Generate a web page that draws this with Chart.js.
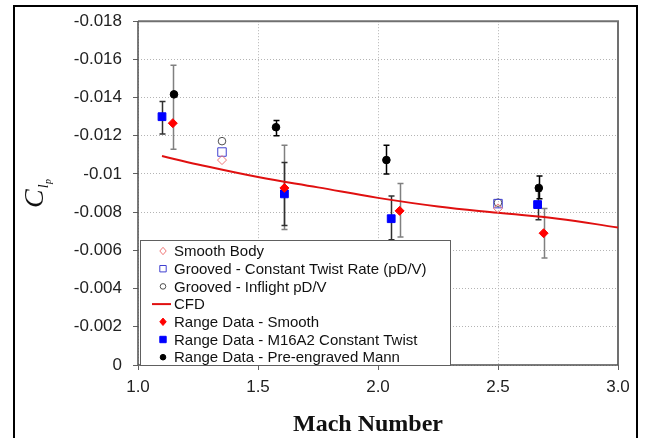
<!DOCTYPE html>
<html><head><meta charset="utf-8">
<script src="https://cdn.jsdelivr.net/npm/chart.js@4/dist/chart.umd.min.js"></script>
<style>html,body{margin:0;padding:0;background:#fff}</style>
</head><body>
<canvas id="c" width="649" height="438"></canvas>
<script>
// ---- data ----
const smoothBodyMach = [1.35, 2.5];
const smoothBodyClp = [-0.01073, -0.0082];
const groovedTwistMach = [1.35, 2.5];
const groovedTwistClp = [-0.01115, -0.00845];
const groovedInflightMach = [1.35, 2.5];
const groovedInflightClp = [-0.01172, -0.0085];
const cfdMach = [1.1, 1.25, 1.5, 1.75, 2.0, 2.25, 2.5, 2.75, 3.0];
const cfdClp = [-0.01094, -0.0105, -0.00984, -0.0093, -0.00875, -0.0083, -0.00797, -0.00766, -0.0072];
const rangeSmoothMach = [1.145, 1.61, 2.09, 2.69];
const rangeSmoothClp = [-0.01266, -0.00927, -0.00807, -0.0069];
const rangeSmoothErrLow = [-0.0113, -0.0071, -0.0067, -0.0056];
const rangeSmoothErrHigh = [-0.0157, -0.0115, -0.0095, -0.0082];
const rangeM16Mach = [1.10, 1.61, 2.055, 2.665];
const rangeM16Clp = [-0.0130, -0.00896, -0.00766, -0.0084];
const rangeM16ErrLow = [-0.0121, -0.0073, -0.00656, -0.0076];
const rangeM16ErrHigh = [-0.0138, -0.0106, -0.00885, -0.0091];
const rangeMannMach = [1.15, 1.575, 2.035, 2.67];
const rangeMannClp = [-0.01417, -0.01245, -0.01073, -0.00927];
const rangeMannErrLow = [null, -0.0120, -0.0100, -0.0087];
const rangeMannErrHigh = [null, -0.0128, -0.0115, -0.0099];
const legendLabels = ['Smooth Body', 'Grooved - Constant Twist Rate (pD/V)', 'Grooved - Inflight pD/V', 'CFD',
  'Range Data - Smooth', 'Range Data - M16A2 Constant Twist', 'Range Data - Pre-engraved Mann'];
const xTickMin = 1.0, xTickMax = 3.0, xTickStep = 0.5;
const yTickMin = -0.018, yTickMax = 0, yTickStep = 0.002;

const pts = (xs, ys) => xs.map((x, i) => ({x, y: ys[i]}));

const datasets = [
  {label: legendLabels[0], data: pts(smoothBodyMach, smoothBodyClp), pointStyle: 'rectRot', pointRadius: 4.5,
   backgroundColor: 'rgba(0,0,0,0)', borderColor: '#f07878', borderWidth: 1, showLine: false},
  {label: legendLabels[1], data: pts(groovedTwistMach, groovedTwistClp), pointStyle: 'rect', pointRadius: 6,
   backgroundColor: 'rgba(0,0,0,0)', borderColor: '#4040d0', borderWidth: 1, showLine: false},
  {label: legendLabels[2], data: pts(groovedInflightMach, groovedInflightClp), pointStyle: 'circle', pointRadius: 3.8,
   backgroundColor: 'rgba(0,0,0,0)', borderColor: '#505050', borderWidth: 1, showLine: false},
  {label: legendLabels[3], data: pts(cfdMach, cfdClp), type: 'line', borderColor: '#e01010', borderWidth: 2,
   pointRadius: 0, tension: 0.4, fill: false, showLine: true},
  {label: legendLabels[4], data: pts(rangeSmoothMach, rangeSmoothClp), pointStyle: 'rectRot', pointRadius: 4.5,
   backgroundColor: '#ff0000', borderColor: '#ff0000', borderWidth: 1, showLine: false,
   errLow: rangeSmoothErrLow, errHigh: rangeSmoothErrHigh, errColor: '#808080'},
  {label: legendLabels[5], data: pts(rangeM16Mach, rangeM16Clp), pointStyle: 'rect', pointRadius: 5.5,
   backgroundColor: '#0000ff', borderColor: '#0000ff', borderWidth: 1, showLine: false,
   errLow: rangeM16ErrLow, errHigh: rangeM16ErrHigh, errColor: '#303030'},
  {label: legendLabels[6], data: pts(rangeMannMach, rangeMannClp), pointStyle: 'circle', pointRadius: 3.8,
   backgroundColor: '#000000', borderColor: '#000000', borderWidth: 1, showLine: false,
   errLow: rangeMannErrLow, errHigh: rangeMannErrHigh, errColor: '#000000'}
];

const framePlugin = {
  id: 'frame',
  beforeDraw(chart) {
    const ctx = chart.ctx;
    ctx.save();
    ctx.fillStyle = '#fff';
    ctx.fillRect(0, 0, chart.width, chart.height);
    ctx.strokeStyle = '#000';
    ctx.lineWidth = 2;
    ctx.strokeRect(14, 6, 623, 450);
    ctx.restore();
  },
  beforeDatasetsDraw(chart) {
    const ctx = chart.ctx, a = chart.chartArea;
    ctx.save();
    // plot frame: top/right gray, left/bottom axis lines darker
    ctx.strokeStyle = '#707070';
    ctx.lineWidth = 2;
    ctx.beginPath();
    ctx.moveTo(a.left, a.top); ctx.lineTo(a.right, a.top); ctx.lineTo(a.right, a.bottom);
    ctx.stroke();
    ctx.strokeStyle = '#505050';
    ctx.lineWidth = 1.5;
    ctx.beginPath();
    ctx.moveTo(a.left, a.top); ctx.lineTo(a.left, a.bottom); ctx.lineTo(a.right, a.bottom);
    ctx.stroke();
    // error bars
    const xs = chart.scales.x, ys = chart.scales.y;
    chart.data.datasets.forEach(ds => {
      if (!ds.errLow) return;
      ctx.strokeStyle = ds.errColor;
      ctx.lineWidth = 1.5;
      ds.data.forEach((p, i) => {
        if (ds.errLow[i] == null) return;
        const px = Math.round(xs.getPixelForValue(p.x)) + 0.5;
        const y1 = ys.getPixelForValue(ds.errLow[i]);
        const y2 = ys.getPixelForValue(ds.errHigh[i]);
        ctx.beginPath();
        ctx.moveTo(px, y1); ctx.lineTo(px, y2);
        ctx.moveTo(px - 3, y1); ctx.lineTo(px + 3, y1);
        ctx.moveTo(px - 3, y2); ctx.lineTo(px + 3, y2);
        ctx.stroke();
      });
    });
    ctx.restore();
  },
  afterDraw(chart) {
    const ctx = chart.ctx;
    ctx.save();
    // legend
    const lx = 140.5, ly = 240.5, lw = 310, lh = 125;
    ctx.fillStyle = '#fff';
    ctx.fillRect(lx, ly, lw, lh);
    ctx.strokeStyle = '#606060';
    ctx.lineWidth = 1;
    ctx.strokeRect(lx, ly, lw, lh);
    ctx.font = '15px "Liberation Sans", Arial, sans-serif';
    ctx.textBaseline = 'middle';
    chart.data.datasets.forEach((ds, i) => {
      const cy = 251 + i * 17.7;
      const cx = 163;
      ctx.save();
      if (ds.type === 'line') {
        ctx.strokeStyle = ds.borderColor; ctx.lineWidth = 2;
        ctx.beginPath(); ctx.moveTo(152, cy); ctx.lineTo(171, cy); ctx.stroke();
      } else {
        const filled = ds.backgroundColor !== 'rgba(0,0,0,0)';
        ctx.fillStyle = ds.backgroundColor; ctx.strokeStyle = ds.borderColor; ctx.lineWidth = 1;
        ctx.beginPath();
        const r = 3.2;
        if (ds.pointStyle === 'rect') ctx.rect(cx - r, cy - r, 2 * r, 2 * r);
        else if (ds.pointStyle === 'rectRot') { ctx.moveTo(cx, cy - r - 0.5); ctx.lineTo(cx + r, cy); ctx.lineTo(cx, cy + r + 0.5); ctx.lineTo(cx - r, cy); ctx.closePath(); }
        else ctx.arc(cx, cy, 2.8, 0, Math.PI * 2);
        if (filled) ctx.fill();
        ctx.stroke();
      }
      ctx.restore();
      ctx.fillStyle = '#111';
      ctx.fillText(ds.label, 174, cy + 1);
    });
    // x title
    ctx.fillStyle = '#111';
    ctx.font = 'bold 24px "Liberation Serif", "Times New Roman", serif';
    ctx.textAlign = 'center';
    ctx.textBaseline = 'alphabetic';
    ctx.fillText('Mach Number', 368, 431);
    // y title C_lp
    ctx.translate(43, 208);
    ctx.rotate(-Math.PI / 2);
    ctx.textAlign = 'left';
    ctx.font = 'italic 28px "Liberation Serif", "Times New Roman", serif';
    ctx.fillText('C', 0, 0);
    const cw = ctx.measureText('C').width;
    ctx.font = 'italic 14px "Liberation Serif", "Times New Roman", serif';
    ctx.fillText('l', cw + 1, 5);
    const lw2 = ctx.measureText('l').width;
    ctx.font = 'italic 10px "Liberation Serif", "Times New Roman", serif';
    ctx.fillText('p', cw + 1 + lw2 + 0.5, 8);
    ctx.restore();
  }
};

new Chart(document.getElementById('c'), {
  type: 'scatter',
  data: {datasets},
  options: {
    responsive: false,
    animation: false,
    events: [],
    layout: {padding: {left: 0, right: 31, top: 20, bottom: 0}},
    plugins: {legend: {display: false}, tooltip: {enabled: false}},
    scales: {
      x: {
        type: 'linear', min: xTickMin, max: xTickMax,
        afterFit: s => { s.height = 73; },
        ticks: {stepSize: xTickStep, padding: 7, color: '#222',
          font: {family: '"Liberation Sans", Arial, sans-serif', size: 17},
          callback: v => Number(v).toFixed(1)},
        grid: {color: '#b4b4b4', tickColor: '#606060', tickLength: 5, tickBorderDash: [], lineWidth: 1},
        border: {display: false, dash: [1, 2]}
      },
      y: {
        type: 'linear', min: yTickMin, max: yTickMax, reverse: true,
        afterFit: s => { s.width = 138; },
        ticks: {stepSize: yTickStep, padding: 11, color: '#222',
          font: {family: '"Liberation Sans", Arial, sans-serif', size: 17},
          callback: v => String(parseFloat(Number(v).toFixed(3)) || 0)},
        grid: {color: '#b4b4b4', tickColor: '#606060', tickLength: 5, tickBorderDash: [], lineWidth: 1},
        border: {display: false, dash: [1, 2]}
      }
    }
  },
  plugins: [framePlugin]
});
</script>
</body></html>
